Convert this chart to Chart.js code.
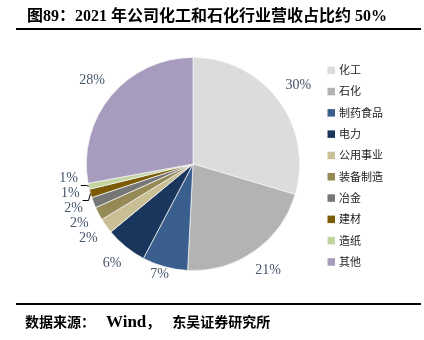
<!DOCTYPE html>
<html>
<head>
<meta charset="utf-8">
<script src="https://cdn.jsdelivr.net/npm/chart.js@4/dist/chart.umd.min.js"></script>
<style>
  html, body { margin: 0; padding: 0; background: #fff; }
  #wrap { position: relative; width: 424px; height: 340px; overflow: hidden; }
  #chart { position: absolute; left: 0; top: 0; }
  #title {
    position: absolute; left: 27px; top: 2px; height: 21px; line-height: 21px;
    font: bold 16px "Liberation Serif", "Noto Sans CJK SC", serif;
    color: #000; white-space: nowrap;
  }
  .rule { position: absolute; left: 16px; width: 405px; height: 2px; background: #000; }
  #foot {
    position: absolute; left: 25px; top: 311px; height: 22px; line-height: 22px;
    font: bold 14px "Liberation Serif", "Noto Sans CJK SC", serif;
    color: #000; white-space: nowrap;
  }
  #foot .src { font-size: 17px; margin-left: 11px; }
  #foot .org { margin-left: 12px; }
</style>
</head>
<body>
<div id="wrap">
  <canvas id="chart" width="424" height="340"></canvas>
  <div id="title">图89：2021 年公司化工和石化行业营收占比约 50%</div>
  <div class="rule" style="top:28px"></div>
  <div class="rule" style="top:303px"></div>
  <div id="foot">数据来源：<span class="src">Wind</span>，<span class="org">东吴证券研究所</span></div>
</div>
<script>
// Revenue share by customer industry, 2021 (%)
const categories = ['化工', '石化', '制药食品', '电力', '公用事业', '装备制造', '冶金', '建材', '造纸', '其他'];
const shares = [29.6, 21.2, 6.9, 6.3, 2.3, 2.0, 1.6, 1.3, 0.9, 27.9];
const sliceColors = ['#DCDCDC', '#B3B3B3', '#3A5F8E', '#1B365C', '#C9BF95', '#958955', '#767676', '#7B5B06', '#C2D59E', '#A79BBE'];

// Percentage labels outside the pie, with leader lines for crowded slices
const outsideLabels = {
  id: 'outsideLabels',
  afterDatasetsDraw(chart) {
    const ctx = chart.ctx;
    const meta = chart.getDatasetMeta(0);
    const values = chart.data.datasets[0].data;
    const total = values.reduce((a, b) => a + b, 0);
    ctx.save();
    ctx.font = '14px "Liberation Serif", serif';
    const gap = 10, hy = 7.5, bottomLimit = 282, minSep = 15;
    const items = meta.data.map((arc, i) => {
      const mid = (arc.startAngle + arc.endAngle) / 2;
      const c = Math.cos(mid), s = Math.sin(mid);
      const text = Math.round(values[i] / total * 100) + '%';
      const hw = ctx.measureText(text).width / 2;
      const dist = arc.outerRadius + gap + hw * Math.abs(c) + hy * Math.abs(s);
      let x = arc.x + dist * c, y = arc.y + dist * s;
      if (y + hy > bottomLimit) y = bottomLimit - hy;
      return { text, x, y, y0: y, hw, c, s, arc };
    });
    // stack the left-side labels upward so they do not collide
    const left = items.filter(it => it.c < -0.5).sort((a, b) => b.y - a.y);
    for (let k = 1; k < left.length; k++) {
      if (left[k - 1].y - left[k].y < minSep) left[k].y = left[k - 1].y - minSep;
    }
    ctx.fillStyle = '#44546A';
    ctx.textAlign = 'center';
    ctx.textBaseline = 'middle';
    items.forEach(it => ctx.fillText(it.text, it.x, it.y));
    // leader lines for displaced labels
    ctx.strokeStyle = '#000';
    ctx.lineWidth = 1;
    items.forEach(it => {
      if (Math.abs(it.y - it.y0) < 3) return;
      const a = it.arc;
      const ex = a.x + a.outerRadius * it.c, ey = a.y + a.outerRadius * it.s;
      const ly = Math.round(it.y + hy - 1) + 0.5;
      const sx = it.x + it.hw + 3;
      ctx.beginPath();
      ctx.moveTo(sx, ly);
      ctx.lineTo(Math.max(sx, ex - 2), ly);
      ctx.lineTo(ex, ey);
      ctx.stroke();
    });
    ctx.restore();
  }
};

// Legend column on the right
const sideLegend = {
  id: 'sideLegend',
  afterDraw(chart) {
    const ctx = chart.ctx;
    const ds = chart.data.datasets[0];
    ctx.save();
    ctx.font = '11px "Noto Sans CJK SC", sans-serif';
    ctx.textAlign = 'left';
    ctx.textBaseline = 'middle';
    chart.data.labels.forEach((lab, i) => {
      const y = 70 + i * 21.3;
      ctx.fillStyle = ds.backgroundColor[i];
      ctx.fillRect(327.5, y - 3.5, 7.5, 7.5);
      ctx.fillStyle = '#222';
      ctx.fillText(lab, 339, y);
    });
    ctx.restore();
  }
};

new Chart(document.getElementById('chart'), {
  type: 'pie',
  data: {
    labels: categories,
    datasets: [{
      data: shares,
      backgroundColor: sliceColors,
      borderColor: '#F4F4F4',
      borderWidth: 0.75
    }]
  },
  options: {
    responsive: false,
    animation: false,
    layout: { padding: { left: 86, right: 124, top: 57, bottom: 69 } },
    plugins: {
      legend: { display: false },
      tooltip: { enabled: false },
      title: { display: false }
    }
  },
  plugins: [outsideLabels, sideLegend]
});
</script>
</body>
</html>
